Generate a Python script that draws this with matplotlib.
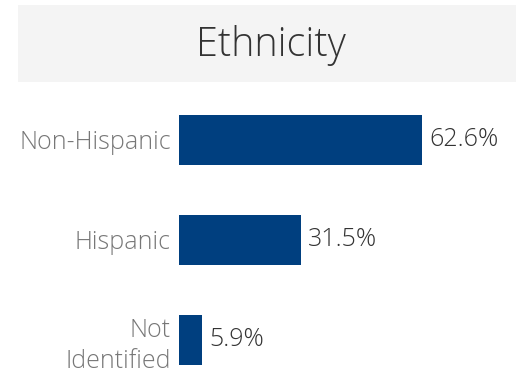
import matplotlib.pyplot as plt
from matplotlib.patches import Rectangle

categories = ["Non-Hispanic", "Hispanic", "Not\nIdentified"]
shares = [62.6, 31.5, 5.9]
value_labels = ["62.6%", "31.5%", "5.9%"]

W, H = 528, 381
plt.rcParams["font.family"] = ["Open Sans", "DejaVu Sans"]
plt.rcParams["font.weight"] = "light"

fig = plt.figure(figsize=(W / 100, H / 100), dpi=100)

# grey title band
fig.patches.append(Rectangle((18 / W, 1 - 82 / H), 498 / W, 77 / H,
                             transform=fig.transFigure, facecolor="#f4f4f4",
                             edgecolor="none", zorder=0))
fig.text(271 / W, 1 - 46 / H, "Ethnicity", ha="center", va="center",
         fontsize=28.5, color="#333333", fontweight="light")

px_per_unit = 3.88
xmax = 80
ax = fig.add_axes([179 / W, 0, xmax * px_per_unit / W, 291 / H])
ax.barh(range(len(categories)), shares, height=0.5, color="#003f7f")
ax.set_xlim(0, xmax)
ax.set_ylim(2.41, -0.5)

for i, (v, lab) in enumerate(zip(shares, value_labels)):
    ax.annotate(lab, (v, i), xytext=(7, 0), textcoords="offset pixels",
                ha="left", va="center", fontsize=18, color="#333333",
                fontweight="light")

ax.set_yticks(range(len(categories)))
ax.set_yticklabels(categories, fontsize=18, color="#777777",
                   linespacing=1.3, fontweight="light")
ax.tick_params(axis="y", length=0, pad=6)
ax.set_xticks([])
for s in ax.spines.values():
    s.set_visible(False)
ax.patch.set_alpha(0)

fig.savefig("out.png", dpi=100)
